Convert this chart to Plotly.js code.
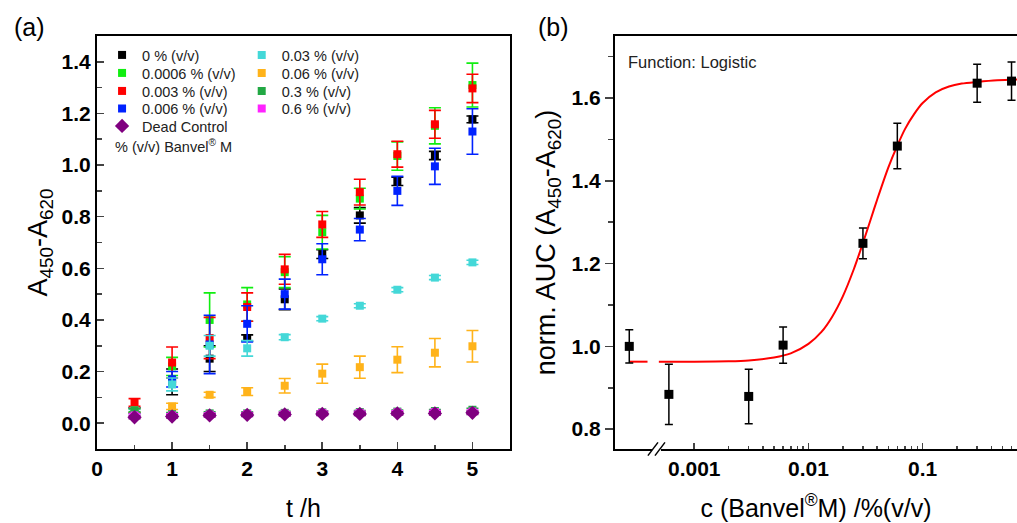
<!DOCTYPE html>
<html>
<head>
<meta charset="utf-8">
<script src="https://cdn.plot.ly/plotly-3.0.1.min.js"></script>
<style>html,body{margin:0;padding:0;background:#fff;}#chart{width:1017px;height:523px;}</style>
</head>
<body>
<div id="chart"></div>
<script>
// ---------- Panel (a): growth curves ----------
const time = [0.5, 1, 1.5, 2, 2.5, 3, 3.5, 4, 4.5, 5];

const seriesNames = ['0 % (v/v)', '0.0006 % (v/v)', '0.003 % (v/v)', '0.006 % (v/v)',
                     '0.03 % (v/v)', '0.06 % (v/v)', '0.3 % (v/v)', '0.6 % (v/v)', 'Dead Control'];

const c0      = [0.05, 0.16, 0.25, 0.33, 0.48, 0.655, 0.805, 0.937, 1.037, 1.177];
const c0Err   = [0.01, 0.05, 0.05, 0.012, 0.04, 0.017, 0.03, 0.016, 0.016, 0.013];
const c0006   = [0.05, 0.22, 0.40, 0.46, 0.585, 0.74, 0.87, 1.035, 1.152, 1.31];
const c0006Err= [0.01, 0.035, 0.105, 0.065, 0.06, 0.065, 0.04, 0.055, 0.07, 0.085];
const c003    = [0.08, 0.235, 0.33, 0.45, 0.596, 0.77, 0.895, 1.042, 1.158, 1.297];
const c003Err = [0.015, 0.06, 0.08, 0.055, 0.058, 0.05, 0.05, 0.05, 0.054, 0.055];
const c006    = [0.05, 0.17, 0.305, 0.385, 0.5, 0.635, 0.75, 0.9, 0.995, 1.13];
const c006Err = [0.01, 0.03, 0.113, 0.07, 0.058, 0.06, 0.043, 0.056, 0.07, 0.088];
const c03     = [0.045, 0.15, 0.30, 0.29, 0.333, 0.405, 0.455, 0.517, 0.564, 0.623];
const c03Err  = [0.008, 0.025, 0.04, 0.03, 0.01, 0.008, 0.008, 0.008, 0.008, 0.008];
const c06     = [0.05, 0.065, 0.11, 0.122, 0.145, 0.192, 0.217, 0.246, 0.273, 0.298];
const c06Err  = [0.008, 0.012, 0.01, 0.015, 0.028, 0.037, 0.043, 0.05, 0.055, 0.061];
const c3      = [0.05, 0.035, 0.038, 0.038, 0.04, 0.042, 0.043, 0.045, 0.047, 0.052];
const c3Err   = [0.006, 0.006, 0.006, 0.006, 0.006, 0.006, 0.006, 0.006, 0.006, 0.006];
const c6      = [0.03, 0.03, 0.033, 0.035, 0.037, 0.04, 0.04, 0.042, 0.043, 0.045];
const c6Err   = [0.006, 0.006, 0.006, 0.006, 0.006, 0.006, 0.006, 0.006, 0.006, 0.006];
const dead    = [0.023, 0.026, 0.03, 0.032, 0.034, 0.036, 0.036, 0.038, 0.038, 0.04];
const deadErr = [0.006, 0.006, 0.006, 0.006, 0.006, 0.006, 0.006, 0.006, 0.006, 0.006];

const aXTicks = [0, 1, 2, 3, 4, 5];
const aYTicks = [0.0, 0.2, 0.4, 0.6, 0.8, 1.0, 1.2, 1.4];
const aYTickText = ['0.0', '0.2', '0.4', '0.6', '0.8', '1.0', '1.2', '1.4'];

// ---------- Panel (b): normalised AUC vs concentration ----------
// first point = 0 % (v/v), drawn left of the axis break
const aucConc = [0.00027, 0.0006, 0.003, 0.006, 0.03, 0.06, 0.3, 0.6];
const aucVal  = [1.0, 0.884, 0.879, 1.003, 1.249, 1.484, 1.636, 1.641];
const aucErr  = [0.04, 0.073, 0.066, 0.044, 0.037, 0.055, 0.046, 0.046];

// logistic fit curve (null = axis break gap)
const fitConc = [0.00027, 0.00039, 0.00044, 0.00049, 0.001, 0.002, 0.003, 0.005, 0.007, 0.01, 0.013, 0.016,
                 0.02, 0.025, 0.03, 0.035, 0.04, 0.05, 0.06, 0.07, 0.085, 0.1, 0.13, 0.17, 0.22, 0.3, 0.45, 0.7];
const fitVal  = [0.963, 0.963, null, 0.963, 0.963, 0.964, 0.966, 0.973, 0.983, 1.006, 1.035, 1.07,
                 1.121, 1.187, 1.25, 1.306, 1.355, 1.432, 1.485, 1.525, 1.563, 1.588, 1.614, 1.628, 1.635, 1.639, 1.643, 1.645];

const bXTicks = [0.001, 0.01, 0.1];
const bXTickText = ['0.001', '0.01', '0.1'];
const bXMinor = [0.002,0.003,0.004,0.005,0.006,0.007,0.008,0.009,
                 0.02,0.03,0.04,0.05,0.06,0.07,0.08,0.09,
                 0.2,0.3,0.4,0.5,0.6,0.7,0.8,0.9];
const bYTicks = [0.8, 1.0, 1.2, 1.4, 1.6];
const bYTickText = ['0.8', '1.0', '1.2', '1.4', '1.6'];

// ---------- styling ----------
const FONT = 'Liberation Sans, Arial, Helvetica, sans-serif';
const colors = ['#000000', '#11ee11', '#ff0000', '#0022ff', '#44d8d8', '#ffb31a', '#22a844', '#ff22ff', '#800080'];
const values = [c0, c0006, c003, c006, c03, c06, c3, c6, dead];
const errs = [c0Err, c0006Err, c003Err, c006Err, c03Err, c06Err, c3Err, c6Err, deadErr];
// legend slot: column (0 left, 1 right) and row
const legCol = [0, 0, 0, 0, 1, 1, 1, 1, 0];
const legRow = [0, 1, 2, 3, 0, 1, 2, 3, 4];
const legColX = [0.0055, 0.1573];
const legRowY = [0.954, 0.9104, 0.8668, 0.8245, 0.7821];

const legFont = {family: FONT, size: 14.5, color: '#222'};
const traces = [];
const legends = {};
for (let i = 0; i < values.length; i++) {
  const isDead = i === 8;
  const legId = i === 0 ? 'legend' : 'legend' + (i + 1);
  legends[legId] = {
    x: legColX[legCol[i]], y: legRowY[legRow[i]], xanchor: 'left', yanchor: 'middle',
    bgcolor: 'rgba(0,0,0,0)', borderwidth: 0, font: legFont, itemwidth: 30
  };
  traces.push({
    type: 'scatter', mode: 'markers',
    x: time, y: values[i], name: seriesNames[i],
    xaxis: 'x', yaxis: 'y', legend: legId,
    marker: {color: colors[i], symbol: isDead ? 'diamond' : 'square', size: isDead ? 11 : 8},
    error_y: {type: 'data', array: errs[i], visible: true, color: colors[i], thickness: 1.6, width: 6}
  });
}
traces.push({
  type: 'scatter', mode: 'lines', x: fitConc, y: fitVal,
  xaxis: 'x2', yaxis: 'y2', showlegend: false, connectgaps: false,
  line: {color: '#ff0000', width: 2, shape: 'spline', smoothing: 0.8}
});
traces.push({
  type: 'scatter', mode: 'markers', x: aucConc, y: aucVal,
  xaxis: 'x2', yaxis: 'y2', showlegend: false,
  marker: {color: '#000000', symbol: 'square', size: 9},
  error_y: {type: 'data', array: aucErr, visible: true, color: '#000000', thickness: 1.5, width: 4}
});

const tickFont = {family: FONT, size: 21, color: '#000', weight: 'bold'};
const titleFont = {family: FONT, size: 25, color: '#000'};
const yTitleFont = {family: FONT, size: 27, color: '#000'};

const layout = Object.assign({
  width: 1017, height: 523,
  margin: {l: 97, r: 0, t: 36, b: 74},
  paper_bgcolor: '#fff', plot_bgcolor: '#fff',
  showlegend: true,
  font: {family: FONT},
  xaxis: {
    domain: [0, 0.4489], range: [0, 5.5],
    tickmode: 'array', tickvals: aXTicks, ticks: 'inside', ticklen: 7, tickwidth: 1.6,
    minor: {dtick: 0.5, tick0: 0, ticks: 'inside', ticklen: 4, tickwidth: 1.6, showgrid: false},
    showline: true, linewidth: 2, linecolor: '#000', mirror: true,
    showgrid: false, zeroline: false, tickfont: tickFont,
    title: {text: 't /h', font: titleFont, standoff: 20}
  },
  yaxis: {
    domain: [0, 1], range: [-0.1, 1.5],
    tickmode: 'array', tickvals: aYTicks, ticktext: aYTickText, ticks: 'inside', ticklen: 7, tickwidth: 1.6,
    minor: {dtick: 0.1, tick0: 0, ticks: 'inside', ticklen: 5, tickwidth: 1.6, showgrid: false},
    showline: true, linewidth: 2, linecolor: '#000', mirror: true,
    showgrid: false, zeroline: false, tickfont: tickFont,
    title: {text: 'A<sub>450</sub>-A<sub>620</sub>', font: yTitleFont, standoff: 6}
  },
  xaxis2: {
    domain: [0.563, 1], type: 'log', range: [-3.694, -0.174], anchor: 'y2',
    tickmode: 'array', tickvals: bXTicks, ticktext: bXTickText, ticks: 'inside', ticklen: 6, tickwidth: 1.5,
    minor: {tickmode: 'array', tickvals: bXMinor, ticks: 'inside', ticklen: 3, tickwidth: 1.5, showgrid: false},
    showline: true, linewidth: 2, linecolor: '#000', mirror: true,
    showgrid: false, zeroline: false, tickfont: tickFont,
    title: {text: 'c (Banvel<sup>®</sup>M) /%(v/v)', font: titleFont, standoff: 20}
  },
  yaxis2: {
    domain: [0, 1], range: [0.752, 1.75], anchor: 'x2',
    tickmode: 'array', tickvals: bYTicks, ticktext: bYTickText, ticks: 'outside', ticklen: 8, tickwidth: 1.5,
    minor: {dtick: 0.1, tick0: 0.8, ticks: 'outside', ticklen: 5, tickwidth: 1.5, showgrid: false},
    showline: true, linewidth: 2, linecolor: '#000', mirror: false,
    showgrid: false, zeroline: false, tickfont: tickFont,
    title: {text: 'norm. AUC (A<sub>450</sub>-A<sub>620</sub>)', font: yTitleFont, standoff: 8}
  },
  annotations: [
    {text: '(a)', xref: 'paper', yref: 'paper', x: -0.073, y: 1.022, xanchor: 'center', yanchor: 'middle',
     showarrow: false, font: {family: FONT, size: 25, color: '#000'}},
    {text: '(b)', xref: 'paper', yref: 'paper', x: 0.4957, y: 1.022, xanchor: 'center', yanchor: 'middle',
     showarrow: false, font: {family: FONT, size: 25, color: '#000'}},
    {text: '% (v/v) Banvel<sup>®</sup> M', xref: 'paper', yref: 'paper', x: 0.0174, y: 0.734,
     xanchor: 'left', yanchor: 'middle', showarrow: false, font: legFont},
    {text: 'Function: Logistic', xref: 'paper', yref: 'paper', x: 0.5755, y: 0.937,
     xanchor: 'left', yanchor: 'middle', showarrow: false, font: {family: FONT, size: 16.5, color: '#222'}}
  ],
  shapes: [
    {type: 'rect', xref: 'x2 domain', yref: 'y2 domain', x0: 0.092, x1: 0.1144, y0: -0.012, y1: 0.012,
     fillcolor: '#fff', line: {width: 0}, layer: 'above'},
    {type: 'line', xref: 'x2 domain', yref: 'y2 domain', x0: 0.082, x1: 0.107, y0: -0.016, y1: 0.016,
     line: {color: '#000', width: 1.5}, layer: 'above'},
    {type: 'line', xref: 'x2 domain', yref: 'y2 domain', x0: 0.0995, x1: 0.1244, y0: -0.016, y1: 0.016,
     line: {color: '#000', width: 1.5}, layer: 'above'}
  ]
}, legends);

Plotly.newPlot('chart', traces, layout, {displayModeBar: false, staticPlot: true});
</script>
</body>
</html>
